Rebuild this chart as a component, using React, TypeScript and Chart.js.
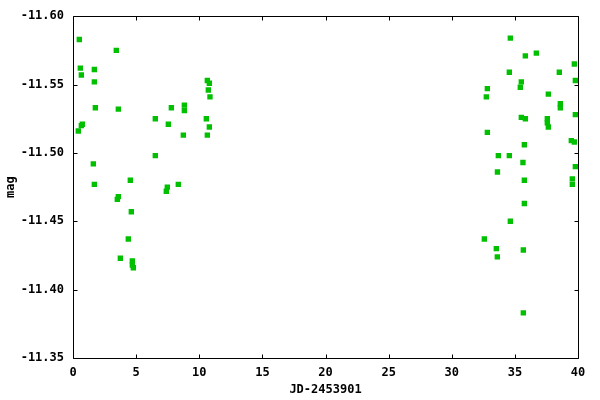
import React, { useEffect, useRef } from "react";
import { Chart, registerables } from "chart.js";

Chart.register(...registerables);

// JD-2453901 (days) and magnitudes
const jdEarly = [
  0.50, 3.43, 0.58, 1.69, 0.66, 1.69, 1.77, 3.59, 7.79, 6.52,
  7.55, 0.74, 0.66, 0.42, 6.52, 1.61, 1.69, 4.54, 7.47, 7.39,
  8.34, 3.59, 3.51, 4.62, 4.38, 3.75, 4.70, 4.70, 4.78, 10.64,
  10.80, 10.72, 10.85, 8.82, 8.82, 10.56, 10.80, 8.74, 10.64,
];
const magEarly = [
  -11.583, -11.575, -11.562, -11.561, -11.557, -11.552, -11.533, -11.532, -11.533, -11.525,
  -11.521, -11.521, -11.520, -11.516, -11.498, -11.492, -11.477, -11.480, -11.475, -11.472,
  -11.477, -11.468, -11.466, -11.457, -11.437, -11.423, -11.421, -11.418, -11.416, -11.553,
  -11.551, -11.546, -11.541, -11.535, -11.531, -11.525, -11.519, -11.513, -11.513,
];
const jdLate = [
  34.64, 35.83, 36.70, 39.71, 34.56, 38.52, 35.51, 35.43, 39.79, 32.82,
  32.74, 37.65, 38.60, 38.60, 39.79, 35.51, 35.83, 37.57, 37.57, 37.65,
  32.82, 39.47, 39.71, 35.75, 33.69, 34.56, 35.64, 39.79, 33.62, 35.75,
  39.55, 39.55, 35.75, 34.64, 32.58, 33.53, 35.67, 33.61, 35.67,
];
const magLate = [
  -11.584, -11.571, -11.573, -11.565, -11.559, -11.559, -11.552, -11.548, -11.553, -11.547,
  -11.541, -11.543, -11.536, -11.533, -11.528, -11.526, -11.525, -11.525, -11.522, -11.519,
  -11.515, -11.509, -11.508, -11.506, -11.498, -11.498, -11.493, -11.490, -11.486, -11.480,
  -11.481, -11.477, -11.463, -11.450, -11.437, -11.430, -11.429, -11.424, -11.383,
];

const xMin = 0;
const xMax = 40;
const xStep = 5;
const yMin = -11.6;
const yMax = -11.35;
const yStep = 0.05;

const xTitle = "JD-2453901";
const yTitle = "mag";

const FONT = "'DejaVu Sans Mono', monospace";

const framePlugin = {
  id: "frame",
  afterDatasetsDraw(chart: any) {
    const { ctx, chartArea, scales } = chart;
    const { left, right, top, bottom } = chartArea;
    const L = Math.round(left) + 0.5;
    const R = Math.round(right) + 0.5;
    const T = Math.round(top) + 0.5;
    const B = Math.round(bottom) + 0.5;
    const tl = 4;
    ctx.save();
    ctx.strokeStyle = "#000";
    ctx.lineWidth = 1;
    ctx.beginPath();
    ctx.rect(L, T, R - L, B - T);
    scales.x.ticks.forEach((t: any) => {
      const px = Math.round(scales.x.getPixelForValue(t.value)) + 0.5;
      ctx.moveTo(px, B);
      ctx.lineTo(px, B - tl);
      ctx.moveTo(px, T);
      ctx.lineTo(px, T + tl);
    });
    scales.y.ticks.forEach((t: any) => {
      const py = Math.round(scales.y.getPixelForValue(t.value)) + 0.5;
      ctx.moveTo(L, py);
      ctx.lineTo(L + tl, py);
      ctx.moveTo(R, py);
      ctx.lineTo(R - tl, py);
    });
    ctx.stroke();
    ctx.restore();
  },
};

export default function App() {
  const ref = useRef<HTMLCanvasElement | null>(null);

  useEffect(() => {
    if (!ref.current) return;
    const points = [
      ...jdEarly.map((x, i) => ({ x, y: magEarly[i] })),
      ...jdLate.map((x, i) => ({ x, y: magLate[i] })),
    ];
    const chart = new Chart(ref.current, {
      type: "scatter",
      data: {
        datasets: [
          {
            data: points,
            pointStyle: "rect",
            pointRadius: 3.8,
            pointBorderWidth: 0,
            pointBackgroundColor: "#00c000",
            backgroundColor: "#00c000",
            borderColor: "#00c000",
          },
        ],
      },
      options: {
        responsive: false,
        animation: false,
        devicePixelRatio: 1,
        layout: { padding: { left: 0, right: 22, top: 15, bottom: 0 } },
        plugins: {
          legend: { display: false },
          tooltip: { enabled: false },
        },
        scales: {
          x: {
            type: "linear",
            min: xMin,
            max: xMax,
            grid: { display: false, drawTicks: false },
            border: { display: false },
            ticks: {
              stepSize: xStep,
              padding: 8,
              color: "#000",
              maxRotation: 0,
              font: { family: FONT, size: 12, weight: "bold" },
              callback: (v: any) => String(v),
            },
            title: {
              display: true,
              text: xTitle,
              color: "#000",
              padding: { top: 0, bottom: 3 },
              font: { family: FONT, size: 12, weight: "bold" },
            },
            afterFit: (s: any) => {
              s.height = 42;
            },
          },
          y: {
            type: "linear",
            min: yMin,
            max: yMax,
            reverse: true,
            grid: { display: false, drawTicks: false },
            border: { display: false },
            ticks: {
              stepSize: yStep,
              padding: 9,
              color: "#000",
              font: { family: FONT, size: 12, weight: "bold" },
              callback: (v: any) => Number(v).toFixed(2),
            },
            title: {
              display: true,
              text: yTitle,
              color: "#000",
              padding: { top: 4, bottom: 0 },
              font: { family: FONT, size: 12, weight: "bold" },
            },
            afterFit: (s: any) => {
              s.width = 73;
            },
          },
        },
      },
      plugins: [framePlugin],
    });
    return () => chart.destroy();
  }, []);

  return (
    <div style={{ position: "fixed", left: 0, top: 0, width: 600, height: 400, background: "#fff" }}>
      <canvas ref={ref} width={600} height={400} style={{ display: "block" }} />
    </div>
  );
}
